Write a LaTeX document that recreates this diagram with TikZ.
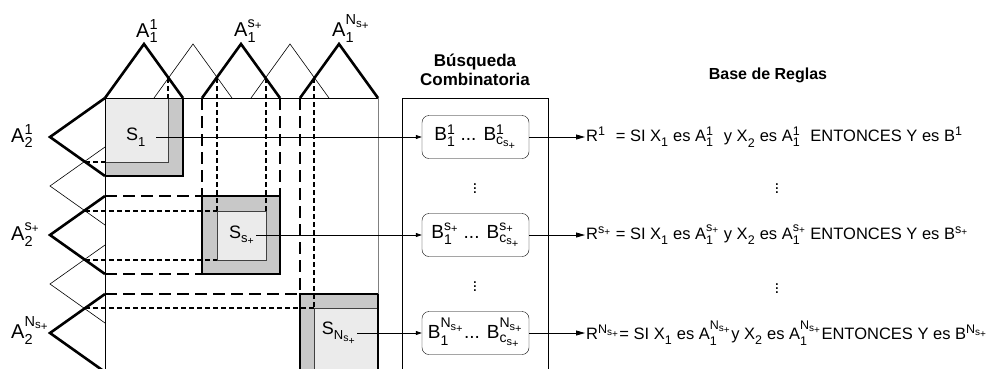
\documentclass[tikz,border=0pt]{standalone}
\usepackage{amsmath,calc}
\usepackage{fontspec}
\setmainfont{Liberation Sans}
\usetikzlibrary{arrows.meta,positioning}

\definecolor{supp}{HTML}{C8C8C8}
\definecolor{core}{HTML}{EBEBEB}

\DeclareMathSizes{20}{20}{14.5}{11.5}
\DeclareMathSizes{19}{19}{14}{11}
\DeclareMathSizes{18}{18}{13}{10.5}
\DeclareMathSizes{16.5}{16.5}{12.5}{10}

% script helpers
\newcommand{\splus}{\text{s}_{\text{+}}}
\newcommand{\Nsplus}{\text{N}_{\splus}}
\newcommand{\ab}[2]{\ensuremath{^{#1}_{#2}}}
\newcommand{\fsup}[2]{\ensuremath{^{\makebox[\widthof{$\scriptstyle\splus$}][l]{$\scriptstyle#1$}}_{#2}}}

\begin{document}
\begin{tikzpicture}[x=1pt, y=-1pt,
    bold/.style={line width=2.6pt},
    thinleg/.style={line width=0.6pt},
    ldash/.style={line width=1.1pt, dash pattern=on 12pt off 6pt},
    sdash/.style={line width=1.1pt, dash pattern=on 5pt off 3pt},
    cellline/.style={line width=1.1pt},
    coreline/.style={line width=0.7pt, black!75},
    lbl/.style={inner sep=0pt, font=\fontsize{20}{22}\selectfont},
    slbl/.style={inner sep=1pt, font=\fontsize{18}{20}\selectfont},
    bbox/.style={draw, rounded corners=7pt, minimum width=107pt, minimum height=43pt, inner sep=0pt, fill=white, font=\fontsize{19}{21}\selectfont},
    ttl/.style={font=\fontsize{17}{19}\selectfont\bfseries, align=center},
    rulebox/.style={anchor=west, inner sep=1pt, font=\fontsize{16.5}{18}\selectfont},
    dots/.style={inner sep=0pt, font=\fontsize{17}{19}\selectfont},
    arr/.style={-{Triangle[length=6pt, width=4pt]}, line width=0.8pt},
    rarr/.style={-{Triangle[length=9pt, width=5pt]}, line width=0.8pt}
  ]
  \useasboundingbox (0,0) rectangle (994,368);

  % cells
  \fill[supp] (105,98) rectangle (183,176);
  \fill[core] (105,98) rectangle (168,162);
  \fill[supp] (202,196) rectangle (280,274);
  \fill[core] (217,211) rectangle (266,260);
  \fill[supp] (300,294) rectangle (378,380);
  \fill[core] (314,308) rectangle (378,380);
  \draw[coreline] (168,98) -- (168,162) -- (105,162);
  \draw[coreline] (217,211) rectangle (266,260);
  \draw[coreline] (378,308) -- (314,308) -- (314,380);
  \draw[cellline] (183,98) -- (183,176) -- (105,176);
  \draw[cellline] (202,196) rectangle (280,274);
  \draw[cellline] (300,380) -- (300,294) -- (378,294) -- (378,380);

  % projections
  \foreach \x/\y in {168/98, 217/211, 266/211, 314/308}
    \draw[sdash] (\x,78) -- (\x,\y);
  \foreach \y/\x in {162/105, 211/217, 260/217, 308/314}
    \draw[sdash] (85,\y) -- (\x,\y);
  \foreach \x/\y in {202/196, 280/196, 300/294}
    \draw[ldash] (\x,98) -- (\x,\y);
  \foreach \y/\x in {196/202, 274/202, 294/300}
    \draw[ldash] (105,\y) -- (\x,\y);

  \draw[line width=0.8pt] (105,380) -- (105,98) -- (378,98);
  \draw[line width=0.8pt, gray] (378,98) -- (378,294);

  % fuzzy partitions
  \foreach \x in {154,251}
    \draw[thinleg] (\x,98) -- ++(39,-54) -- ++(39,54);
  \foreach \y in {147,245}
    \draw[thinleg] (105,\y) -- ++(-55,39) -- ++(55,39);
  \foreach \x in {105,202,300}
    \draw[bold] (\x,98) -- ++(39,-54) -- ++(39,54);
  \foreach \y in {98,196,294}
    \draw[bold] (105,\y) -- ++(-55,39) -- ++(55,39);

  \node[lbl, anchor=south west] (a11) at (136,43) {A\ab{\text{1}}{\text{1}}};
  \node[lbl, anchor=south west] (a1s) at (234,43) {A\ab{\splus}{\text{1}}};
  \node[lbl, anchor=south west] (a1n) at (332,43) {A\ab{\Nsplus}{\text{1}}};
  \node[lbl, anchor=base west] (a21) at (11,142) {A\ab{\text{1}}{\text{2}}};
  \node[lbl, anchor=base west] (a2s) at (11,240) {A\ab{\splus}{\text{2}}};
  \node[lbl, anchor=base west] (a2n) at (11,338) {A\ab{\Nsplus}{\text{2}}};

  \node[slbl] (s1) at (136,137) {S\ab{}{\text{1}}};
  \node[slbl] (ss) at (242,235) {S\ab{}{\splus}};
  \node[slbl] (sn) at (339,333) {S\ab{}{\Nsplus}};

  % combinatorial search
  \node[ttl] (busq) at (475,70) {Búsqueda\\Combinatoria};
  \draw[line width=0.9pt] (402,380) -- (402,98) -- (548,98) -- (548,380);
  \node[bbox] (b1) at (475.5,137) {B\ab{\text{1}}{\text{1}} ... B\ab{\text{1}}{\text{c}_{\splus}}};
  \node[bbox] (bs) at (475.5,235) {B\ab{\splus}{\text{1}} ... B\ab{\splus}{\text{c}_{\splus}}};
  \node[bbox] (bn) at (475.5,333) {B\ab{\Nsplus}{\text{1}}... B\ab{\Nsplus}{\text{c}_{\splus}}};
  \node[dots] (dm1) at (475,186) {$\vdots$};
  \node[dots] (dm2) at (475,284) {$\vdots$};

  \draw[arr] ([xshift=9pt]s1.east) -- (b1);
  \draw[arr] (ss.east) -- (bs);
  \draw[arr] (sn.east) -- (bn);

  % rule base
  \node[ttl, font=\fontsize{16}{19}\selectfont\bfseries] (base) at (768,75) {Base de Reglas};
  \node[rulebox] (r1) at (585,137) {R\fsup{\text{1}}{} = SI X\ab{}{\text{1}} es A\fsup{\text{1}}{\text{1}} y X\ab{}{\text{2}} es A\fsup{\text{1}}{\text{1}} ENTONCES Y es B\ab{\text{1}}{}};
  \node[rulebox] (rs) at (585,235) {R\fsup{\splus}{} = SI X\ab{}{\text{1}} es A\fsup{\splus}{\text{1}} y X\ab{}{\text{2}} es A\fsup{\splus}{\text{1}} ENTONCES Y es B\ab{\splus}{}};
  \node[rulebox] (rn) at (585,333) {R\ab{\Nsplus}{}= SI X\ab{}{\text{1}} es A\ab{\Nsplus}{\text{1}}y X\ab{}{\text{2}} es A\ab{\Nsplus}{\text{1}}ENTONCES Y es B\ab{\Nsplus}{}};
  \node[dots] (dr1) at (777,186) {$\vdots$};
  \node[dots] (dr2) at (777,286) {$\vdots$};

  \draw[rarr] (b1) -- (r1);
  \draw[rarr] (bs) -- (rs);
  \draw[rarr] (bn) -- (rn);
\end{tikzpicture}
\end{document}
